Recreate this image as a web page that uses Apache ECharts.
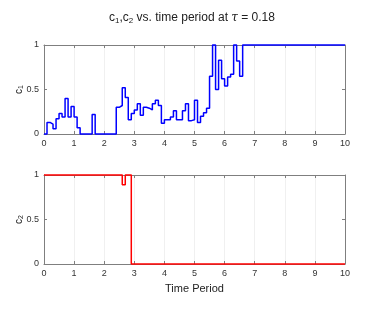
<!DOCTYPE html>
<html>
<head>
<meta charset="utf-8">
<script src="https://cdn.jsdelivr.net/npm/echarts@6/dist/echarts.min.js"></script>
<style>
html,body{margin:0;padding:0;background:#fff;}
#chart{width:384px;height:316px;}
</style>
</head>
<body>
<div id="chart"></div>
<script>
// Step change times and the value held from that time on (c1 = top, c2 = bottom)
var c1Times  = [0, 0.1, 0.2, 0.3, 0.4, 0.5, 0.6, 0.7, 0.8, 0.9, 1.0, 1.1, 1.2, 1.6, 1.7, 2.4, 2.5, 2.6, 2.7, 2.8, 2.9, 3.0, 3.1, 3.2, 3.3, 3.4, 3.5, 3.6, 3.7, 3.8, 3.9, 4.0, 4.2, 4.3, 4.4, 4.6, 4.7, 4.8, 4.9, 5.0, 5.1, 5.2, 5.3, 5.4, 5.5, 5.6, 5.7, 5.8, 5.9, 6.0, 6.1, 6.2, 6.3, 6.4, 6.5, 6.6, 10];
var c1Values = [0, 0.13, 0.11, 0.06, 0.17, 0.23, 0.19, 0.40, 0.19, 0.31, 0.19, 0.07, 0, 0.22, 0, 0.30, 0.32, 0.52, 0.41, 0.16, 0.23, 0.27, 0.34, 0.21, 0.30, 0.29, 0.27, 0.34, 0.38, 0.32, 0.12, 0.16, 0.19, 0.26, 0.16, 0.26, 0.34, 0.15, 0.16, 0.38, 0.13, 0.20, 0.24, 0.29, 0.65, 1.0, 0.50, 0.83, 0.62, 0.54, 0.64, 0.67, 1.0, 0.82, 0.65, 1.0, 1.0];
var c2Times  = [0, 2.6, 2.7, 2.9, 10];
var c2Values = [1, 0.89, 1, 0, 0];
var xTicks = [0, 1, 2, 3, 4, 5, 6, 7, 8, 9, 10];
var yTicks = [0, 0.5, 1];

function pairs(t, v) { return t.map(function (x, i) { return [x, v[i]]; }); }

var axisCol = '#7f7f7f';
var labCol = '#333';
var font = 'Liberation Sans, Arial, sans-serif';

function xAx(gi, pos, showLab, name) {
  return {
    type: 'value', gridIndex: gi, position: pos, min: xTicks[0], max: xTicks[xTicks.length - 1], interval: 1,
    axisLine: { show: true, onZero: false, lineStyle: { color: axisCol, width: 1 } },
    axisTick: { show: true, inside: true, length: 3, lineStyle: { color: axisCol } },
    axisLabel: { show: showLab, color: labCol, fontSize: 9, fontFamily: font, margin: 5 },
    splitLine: { show: pos === 'bottom', lineStyle: { color: '#f0f0f0', width: 1 } },
    name: name || '', nameLocation: 'middle', nameGap: 19,
    nameTextStyle: { color: '#222', fontSize: 11, fontFamily: font }
  };
}
function yAx(gi, pos, showLab, sub) {
  return {
    type: 'value', gridIndex: gi, position: pos, min: yTicks[0], max: yTicks[yTicks.length - 1], interval: 0.5,
    axisLine: { show: true, onZero: false, lineStyle: { color: axisCol, width: 1 } },
    axisTick: { show: true, inside: true, length: 3, lineStyle: { color: axisCol } },
    axisLabel: { show: showLab, color: labCol, fontSize: 9, fontFamily: font, margin: 5,
      formatter: function (v) { return String(v); } },
    splitLine: { show: false },
    name: sub ? '{n|c}{s|' + sub + '}' : '',
    nameLocation: 'middle', nameRotate: 90, nameGap: 19, nameMoveOverlap: false,
    nameTextStyle: { color: '#222', fontFamily: font,
      rich: { n: { fontSize: 10, fontFamily: font, color: '#222' },
              s: { fontSize: 7, fontFamily: font, color: '#222', padding: [5, 0, 0, 0] } } }
  };
}

var chart = echarts.init(document.getElementById('chart'), null, { renderer: 'canvas' });
chart.setOption({
  backgroundColor: '#fff',
  animation: false,
  title: {
    text: '{n|c}{s|1}{n|,c}{s|2}{n| vs. time period at }{t|τ}{n| = 0.18}',
    left: 'center', top: 6,
    textStyle: {
      fontWeight: 'normal',
      rich: {
        n: { fontSize: 12, fontWeight: 'normal', fontFamily: font, color: '#222' },
        t: { fontSize: 12, fontWeight: 'normal', fontFamily: 'DejaVu Serif, serif', fontStyle: 'italic', color: '#222' },
        s: { fontSize: 8, fontWeight: 'normal', fontFamily: font, color: '#222', padding: [6, 0, 0, 0] }
      }
    }
  },
  grid: [
    { left: 44, right: 39, top: 45, height: 89, outerBoundsMode: 'none', containLabel: false },
    { left: 44, right: 39, top: 175, height: 89, outerBoundsMode: 'none', containLabel: false }
  ],
  xAxis: [
    xAx(0, 'bottom', true), xAx(0, 'top', false),
    xAx(1, 'bottom', true, 'Time Period'), xAx(1, 'top', false)
  ],
  yAxis: [
    yAx(0, 'left', true, '1'), yAx(0, 'right', false),
    yAx(1, 'left', true, '2'), yAx(1, 'right', false)
  ],
  series: [
    { type: 'line', xAxisIndex: 0, yAxisIndex: 0, step: 'end', showSymbol: false,
      data: pairs(c1Times, c1Values), lineStyle: { color: '#0000ff', width: 1.5 }, clip: false },
    { type: 'line', xAxisIndex: 2, yAxisIndex: 2, step: 'end', showSymbol: false,
      data: pairs(c2Times, c2Values), lineStyle: { color: '#ff0000', width: 1.5 }, clip: false }
  ]
});
</script>
</body>
</html>
